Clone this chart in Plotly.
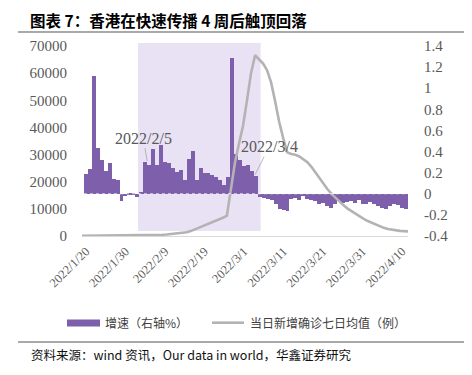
import plotly.graph_objects as go
import pandas as pd

# ---------------- data ----------------
dates = pd.date_range("2022-01-20", "2022-04-11", freq="D")

# 增速（右轴%） daily bars, right axis
growth_pct = [
    0.19, 0.235, 1.12, 0.43, 0.32, 0.22, 0.29, 0.14, 0.13, -0.07,
    -0.02, -0.015, -0.015, -0.03, 0.01, 0.30, 0.27, 0.42, 0.27, 0.46,
    0.30, 0.29, 0.24, 0.21, 0.23, 0.13, 0.33, 0.41, 0.13, 0.24,
    0.20, 0.20, 0.18, 0.16, 0.13, 0.08, 0.16, 1.29, 0.38, 0.32,
    0.26, 0.27, 0.22, 0.17, -0.03, -0.04, -0.05, -0.06, -0.10, -0.14,
    -0.155, -0.16, -0.05, -0.04, -0.055, -0.02, -0.05, -0.06, -0.07, -0.10,
    -0.09, -0.12, -0.135, -0.095, -0.07, -0.09, -0.08, -0.07, -0.09, -0.06,
    -0.10, -0.095, -0.08, -0.10, -0.12, -0.135, -0.145, -0.12, -0.10, -0.11,
    -0.13, -0.14,
]

# 当日新增确诊七日均值（例） line, left axis
cases_7d = [
    30, 40, 50, 60, 70, 80, 90, 100, 110, 120,
    130, 140, 160, 180, 200, 230, 260, 300, 340, 380,
    450, 550, 700, 850, 1000, 1150, 1350, 1800, 2400, 3100,
    3700, 4300, 4800, 5300, 6000, 6700, 7500, 18000, 27000, 34000,
    40500, 50000, 60000, 66600, 65000, 63500, 61000, 56500, 49500, 42000,
    36000, 30800, 30200, 29900, 29300, 28300, 27200, 25500, 23400, 21600,
    19500, 17200, 15500, 14000, 12600, 11300, 10100, 9100, 8200, 7200,
    6300, 5500, 4800, 4200, 3500, 3000, 2600, 2300, 2000, 1900,
    1800, 1700,
]

x_tick_dates = ["2022-01-20", "2022-01-30", "2022-02-09", "2022-02-19", "2022-03-01",
                "2022-03-11", "2022-03-21", "2022-03-31", "2022-04-10"]
x_tick_text = ["2022/1/20", "2022/1/30", "2022/2/9", "2022/2/19", "2022/3/1",
               "2022/3/11", "2022/3/21", "2022/3/31", "2022/4/10"]
left_ticks = [0, 10000, 20000, 30000, 40000, 50000, 60000, 70000]
left_tick_text = ["0", "10000", "20000", "30000", "40000", "50000", "60000", "70000"]
right_ticks = [-0.4, -0.2, 0, 0.2, 0.4, 0.6, 0.8, 1.0, 1.2, 1.4]
right_tick_text = ["-0.4", "-0.2", "0", "0.2", "0.4", "0.6", "0.8", "1", "1.2", "1.4"]

bar_name = "增速（右轴%）"
line_name = "当日新增确诊七日均值（例）"
title_text = "<b>图表 7：香港在快速传播 4 周后触顶回落</b>"
source_text = "资料来源：wind 资讯，Our data in world，华鑫证券研究"

# ---------------- style / layout ----------------
# The page body has an 8px margin, so the figure is drawn 8px smaller
# and every page coordinate below is given in page pixels.
OFF = 8
PAGE_W, PAGE_H = 472, 375
W, H = PAGE_W - OFF, PAGE_H - OFF
L, R, T, B = 82, 408, 46, 236   # plot area in page pixels
PURPLE = "#7E5FAC"
SHADE = "#E9E2F5"
GRAY_LINE = "#B3B3B3"
TICK_COLOR = "#595959"
NUM_FONT = "Liberation Serif"
CJK_FONT = "Noto Sans CJK SC"


def px(x):
    return (x - L) / (R - L)


def py(y):
    return (B - y) / (B - T)


fig = go.Figure()
fig.add_trace(go.Bar(
    x=dates, y=growth_pct, name=bar_name, xaxis="x", yaxis="y2",
    marker=dict(color=PURPLE, line=dict(width=0)), showlegend=False,
))
fig.add_trace(go.Scatter(
    x=dates, y=cases_7d, name=line_name, xaxis="x2", yaxis="y", mode="lines",
    line=dict(color=GRAY_LINE, width=2.6), showlegend=False,
))

x_start = dates[0] - pd.Timedelta(hours=24)
x_end = dates[-1] + pd.Timedelta(hours=12)

shapes = [
    # highlighted period
    dict(type="rect", xref="x", yref="paper",
         x0="2022-02-02 04:00", x1="2022-03-05 05:00",
         y0=py(231), y1=py(43), fillcolor=SHADE, line=dict(width=0), layer="below"),
    # dotted baseline at zero of bars
    dict(type="line", xref="x", yref="y2", x0=dates[0] - pd.Timedelta(hours=12),
         x1=dates[-1] + pd.Timedelta(hours=12), y0=0, y1=0,
         line=dict(color="rgba(255,255,255,0.75)", width=1, dash="dot")),
    # rule under title
    dict(type="line", xref="paper", yref="paper", x0=px(18), x1=px(472), y0=py(32), y1=py(32),
         line=dict(color="#8C8C8C", width=1.5)),
    # rule above source
    dict(type="line", xref="paper", yref="paper", x0=px(18), x1=px(472), y0=py(342), y1=py(342),
         line=dict(color="#8C8C8C", width=1.5)),
    # legend swatches
    dict(type="rect", xref="paper", yref="paper", x0=px(67), x1=px(100), y0=py(326.5), y1=py(319.5),
         fillcolor=PURPLE, line=dict(width=0)),
    dict(type="line", xref="paper", yref="paper", x0=px(212), x1=px(244), y0=py(322.7), y1=py(322.7),
         line=dict(color=GRAY_LINE, width=2.6)),
]

annotations = [
    # title anchored at the very top of the figure so it is not clipped
    dict(xref="paper", yref="paper", x=px(29), y=py(OFF), xanchor="left", yanchor="top",
         text=title_text, showarrow=False, borderpad=0,
         font=dict(family=CJK_FONT, size=15.5, color="#000000")),
    dict(xref="paper", yref="paper", x=px(29), y=py(354), xanchor="left", yanchor="middle",
         text=source_text, showarrow=False, font=dict(family=CJK_FONT, size=12.5, color="#111111")),
    dict(xref="paper", yref="paper", x=px(103), y=py(322.7), xanchor="left", yanchor="middle",
         text=bar_name, showarrow=False, font=dict(family=CJK_FONT, size=12, color="#404040")),
    dict(xref="paper", yref="paper", x=px(248), y=py(322.7), xanchor="left", yanchor="middle",
         text=line_name, showarrow=False, font=dict(family=CJK_FONT, size=12, color="#404040")),
    # data labels with leader lines
    dict(xref="x", yref="y2", x="2022-02-04 12:00", y=0.31, ax=-4, ay=-23,
         text="2022/2/5", showarrow=True, arrowhead=0, arrowwidth=0.8, arrowcolor="#A6A6A6",
         font=dict(family=NUM_FONT, size=16, color="#595959")),
    dict(xref="x", yref="y2", x="2022-03-03 19:00", y=0.18, ax=14, ay=-28,
         text="2022/3/4", showarrow=True, arrowhead=0, arrowwidth=0.8, arrowcolor="#A6A6A6",
         font=dict(family=NUM_FONT, size=16, color="#595959")),
]

fig.update_layout(
    width=W, height=H, autosize=False,
    margin=dict(l=L - OFF, r=W - (R - OFF), t=T - OFF, b=H - (B - OFF), pad=0),
    paper_bgcolor="white", plot_bgcolor="rgba(0,0,0,0)",
    bargap=0, showlegend=False,
    shapes=shapes, annotations=annotations,
    xaxis=dict(
        type="date", range=[x_start, x_end],
        tickmode="array", tickvals=x_tick_dates, ticktext=x_tick_text, tickangle=-45,
        tickfont=dict(family=NUM_FONT, size=12.5, color=TICK_COLOR),
        showline=True, linecolor="#D9D9D9", linewidth=1.2,
        showgrid=False, zeroline=False, ticks="outside", ticklen=2, tickcolor="rgba(0,0,0,0)",
    ),
    xaxis2=dict(
        type="date", overlaying="x", anchor="y", range=[dates[0], dates[-1]],
        visible=False, showgrid=False, zeroline=False,
    ),
    yaxis=dict(
        range=[0, 70000], tickmode="array", tickvals=left_ticks, ticktext=left_tick_text,
        tickfont=dict(family=NUM_FONT, size=15, color=TICK_COLOR),
        showgrid=False, zeroline=False, showline=False,
        ticks="outside", ticklen=11, tickcolor="rgba(0,0,0,0)",
    ),
    yaxis2=dict(
        range=[-0.4, 1.4], overlaying="y", side="right", anchor="x",
        tickmode="array", tickvals=right_ticks, ticktext=right_tick_text,
        tickfont=dict(family=NUM_FONT, size=15, color=TICK_COLOR),
        showgrid=False, zeroline=False, showline=False,
        ticks="outside", ticklen=12, tickcolor="rgba(0,0,0,0)",
    ),
)

fig.write_html("out.html")
